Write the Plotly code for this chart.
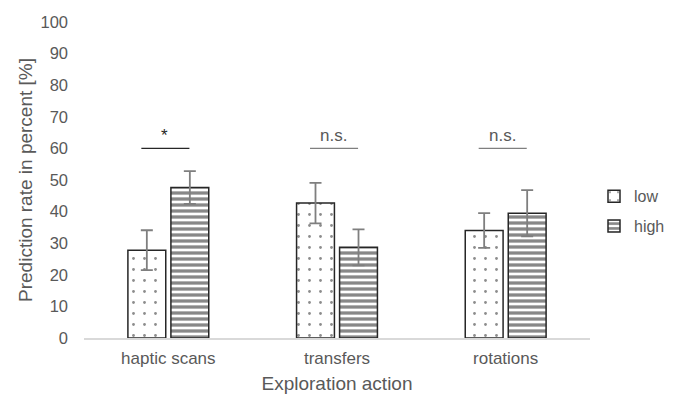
import plotly.graph_objects as go

categories = ["haptic scans", "transfers", "rotations"]
low_values = [27.8, 42.7, 34.0]
low_errors = [6.3, 6.4, 5.5]
high_values = [47.6, 28.7, 39.5]
high_errors = [5.2, 5.7, 7.3]
sig_labels = ["*", "n.s.", "n.s."]
sig_level = 60

W, H = 675, 395
L, R, T, B = 84, 85, 22, 57
TXT = "#595959"
FONT = "Liberation Sans, Arial, sans-serif"

fig = go.Figure()
fig.add_trace(go.Bar(
    name="low", x=categories, y=low_values, legendgroup="low",
    marker=dict(color="white", line=dict(color="#262626", width=1.5),
                pattern=dict(shape=".", fgcolor="#1a1a1a", bgcolor="white",
                             size=11, solidity=0.05)),
    error_y=dict(type="data", array=low_errors, color="#7f7f7f",
                 thickness=1.8, width=6),
))
fig.add_trace(go.Bar(
    name="high", x=categories, y=high_values, legendgroup="high",
    marker=dict(color="white", line=dict(color="#262626", width=1.5),
                pattern=dict(shape="-", fgcolor="#111111", bgcolor="white",
                             size=6, solidity=0.55)),
    error_y=dict(type="data", array=high_errors, color="#7f7f7f",
                 thickness=1.8, width=6),
))

# significance markers above each pair
for i, lab in enumerate(sig_labels):
    fig.add_shape(type="line", xref="x", yref="y",
                  x0=i - 0.16, x1=i + 0.125, y0=sig_level, y1=sig_level,
                  line=dict(color="#262626" if lab == "*" else "#7f7f7f", width=1.2))
    fig.add_annotation(x=i - 0.02, y=sig_level, xref="x", yref="y",
                       text=lab, showarrow=False, yshift=13,
                       font=dict(size=17, color="#262626" if lab == "*" else TXT,
                                 family=FONT))

fig.update_layout(
    width=W, height=H,
    margin=dict(l=L, r=R, t=T, b=B, autoexpand=False),
    paper_bgcolor="white", plot_bgcolor="white",
    barmode="group", bargap=0.49, bargroupgap=0.12,
    font=dict(family=FONT, size=17, color=TXT),
    showlegend=True,
    legend=dict(xref="container", yref="container", x=0.88, y=0.465,
                xanchor="left", yanchor="middle", traceorder="grouped",
                font=dict(size=16, color=TXT), itemwidth=30,
                tracegroupgap=6, bgcolor="rgba(0,0,0,0)"),
    xaxis=dict(
        showline=True, linecolor="#d9d9d9", linewidth=1.5,
        ticks="", tickfont=dict(size=17, color=TXT), ticklabelstandoff=4,
        title=dict(text="Exploration action", font=dict(size=19, color=TXT), standoff=10),
    ),
    yaxis=dict(
        range=[0, 100], dtick=10, showgrid=False, zeroline=False,
        showline=False, ticks="", tickfont=dict(size=16.5, color=TXT),
        ticklabelstandoff=15,
        title=dict(text="Prediction rate in percent [%]", font=dict(size=19, color=TXT),
                   standoff=2),
    ),
)

fig.write_html("out.html")
